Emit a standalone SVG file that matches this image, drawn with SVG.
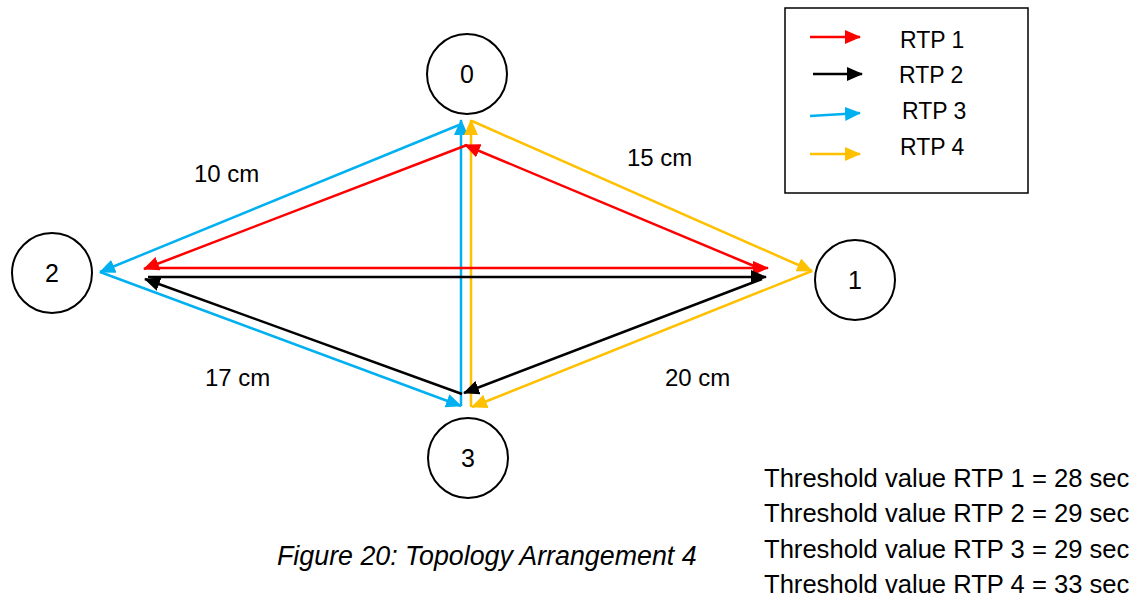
<svg xmlns="http://www.w3.org/2000/svg" width="1141" height="596" viewBox="0 0 1141 596">
  <style>
    text { font-family: "Liberation Sans", Arial, sans-serif; fill: #000; }
    .node circle { fill: #fff; stroke: #000; stroke-width: 2; }
    .node text { font-size: 25px; text-anchor: middle; }
    .dist { font-size: 24px; }
    .legend-text { font-size: 23px; }
    .thr { font-size: 25.6px; }
    .caption { font-size: 26.8px; font-style: italic; }
    .e { fill: none; stroke-width: 2.5; }
    .red { stroke: #FF0000; marker-end: url(#ah-red); }
    .black { stroke: #000000; marker-end: url(#ah-black); }
    .blue { stroke: #00B0F0; marker-end: url(#ah-blue); }
    .yellow { stroke: #FFC000; marker-end: url(#ah-yellow); }
  </style>
  <defs>
    <marker id="ah-red" markerUnits="userSpaceOnUse" markerWidth="16" markerHeight="14" viewBox="0 0 16 14" refX="15" refY="7" orient="auto">
      <path d="M0,0 L16,7 L0,14 z" fill="#FF0000"/>
    </marker>
    <marker id="ah-black" markerUnits="userSpaceOnUse" markerWidth="16" markerHeight="14" viewBox="0 0 16 14" refX="15" refY="7" orient="auto">
      <path d="M0,0 L16,7 L0,14 z" fill="#000000"/>
    </marker>
    <marker id="ah-blue" markerUnits="userSpaceOnUse" markerWidth="16" markerHeight="14" viewBox="0 0 16 14" refX="15" refY="7" orient="auto">
      <path d="M0,0 L16,7 L0,14 z" fill="#00B0F0"/>
    </marker>
    <marker id="ah-yellow" markerUnits="userSpaceOnUse" markerWidth="16" markerHeight="14" viewBox="0 0 16 14" refX="15" refY="7" orient="auto">
      <path d="M0,0 L16,7 L0,14 z" fill="#FFC000"/>
    </marker>
  </defs>

  <rect width="1141" height="596" fill="#fff"/>

  <!-- route connectors -->
  <g id="connectors">
    <!-- RTP 3 (blue): 0 -> 2 -> 3 -> 0 -->
    <line class="e blue" x1="459" y1="125" x2="100" y2="272"/>
    <line class="e blue" x1="100" y1="272" x2="461" y2="406"/>
    <line class="e blue" x1="461" y1="406" x2="461" y2="120"/>
    <!-- RTP 4 (yellow): 0 -> 1 -> 3 -> 0 -->
    <line class="e yellow" x1="472" y1="121" x2="812" y2="271"/>
    <line class="e yellow" x1="812" y1="271" x2="472" y2="407"/>
    <line class="e yellow" x1="471" y1="407" x2="471" y2="120"/>
    <!-- RTP 1 (red): 0 -> 2 -> 1 -> 0 -->
    <line class="e red" x1="467" y1="145" x2="144" y2="269"/>
    <line class="e red" x1="146" y1="268" x2="768" y2="268"/>
    <line class="e red" x1="754" y1="266" x2="465" y2="145"/>
    <!-- RTP 2 (black): 2 -> 1 -> 3 -> 2 -->
    <line class="e black" x1="148" y1="277" x2="766" y2="277"/>
    <line class="e black" x1="762" y1="279" x2="464" y2="393"/>
    <line class="e black" x1="462" y1="394" x2="145" y2="279"/>
  </g>

  <g id="node-0" class="node">
    <circle cx="467" cy="74" r="40"/>
    <text x="467" y="83">0</text>
  </g>
  <g id="node-1" class="node">
    <circle cx="855" cy="280" r="40"/>
    <text x="855" y="289">1</text>
  </g>
  <g id="node-2" class="node">
    <circle cx="52" cy="273" r="40"/>
    <text x="52" y="282">2</text>
  </g>
  <g id="node-3" class="node">
    <circle cx="468" cy="458" r="40"/>
    <text x="468" y="467">3</text>
  </g>

  <!-- link distances -->
  <g id="distances">
    <text class="dist" x="194" y="182">10 cm</text>
    <text class="dist" x="627" y="166">15 cm</text>
    <text class="dist" x="205" y="386">17 cm</text>
    <text class="dist" x="665" y="386">20 cm</text>
  </g>

  <!-- legend -->
  <g id="legend">
    <rect x="785" y="8" width="243" height="185" fill="#fff" stroke="#000" stroke-width="1.5"/>
    <line class="e red" x1="810" y1="37" x2="860" y2="37"/>
    <line class="e black" x1="813" y1="74" x2="862" y2="74"/>
    <line class="e blue" x1="810" y1="116" x2="860" y2="113"/>
    <line class="e yellow" x1="810" y1="154" x2="860" y2="154"/>
    <text class="legend-text" x="900" y="48">RTP 1</text>
    <text class="legend-text" x="899" y="83">RTP 2</text>
    <text class="legend-text" x="902" y="119">RTP 3</text>
    <text class="legend-text" x="900" y="155">RTP 4</text>
  </g>

  <!-- threshold values -->
  <g id="thresholds">
    <text class="thr" x="764" y="487">Threshold value RTP 1 = 28 sec</text>
    <text class="thr" x="764" y="522">Threshold value RTP 2 = 29 sec</text>
    <text class="thr" x="764" y="558">Threshold value RTP 3 = 29 sec</text>
    <text class="thr" x="764" y="593">Threshold value RTP 4 = 33 sec</text>
  </g>

  <text class="caption" x="277" y="565">Figure 20: Topology Arrangement 4</text>
</svg>
